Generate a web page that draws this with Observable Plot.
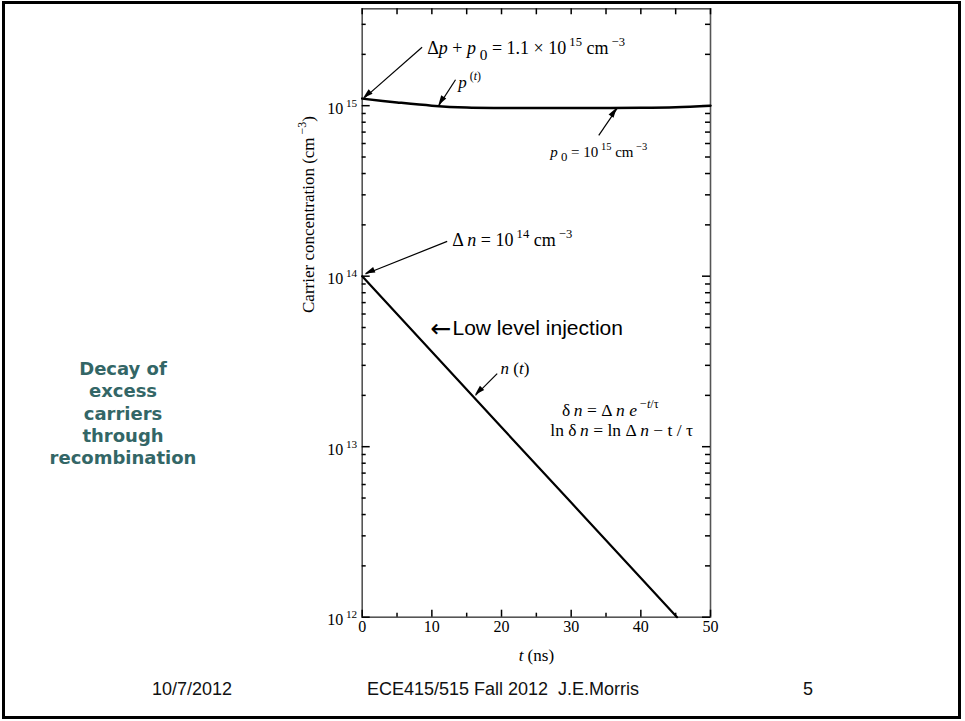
<!DOCTYPE html>
<html>
<head>
<meta charset="utf-8">
<script src="https://cdn.jsdelivr.net/npm/d3@7"></script>
<script src="https://cdn.jsdelivr.net/npm/@observablehq/plot@0.6"></script>
<style>
  html, body { margin: 0; padding: 0; background: #fff; }
  #slide { position: relative; width: 965px; height: 721px; overflow: hidden; background: #fff; }
  #border { position: absolute; left: 2px; top: 1px; width: 953px; height: 712px; border: 3px solid #000; }
  #chart { position: absolute; left: 0; top: 0; }
  #chart svg text { white-space: pre; }
  .side { position: absolute; left: 123px; top: 414px; transform: translate(-50%, -50%);
          font-family: "DejaVu Sans", sans-serif; font-weight: bold; font-size: 18px; line-height: 22.3px;
          color: #336666; text-align: center; white-space: nowrap; }
  .foot { position: absolute; top: 689px; transform: translate(-50%, -50%);
          font-family: "Liberation Sans", Arial, sans-serif; font-size: 18px; color: #111; white-space: pre; }
</style>
</head>
<body>
<div id="slide">
  <div id="border"></div>
  <div id="chart"></div>
  <div class="side">Decay of<br>excess<br>carriers<br>through<br>recombination</div>
  <div class="foot" style="left:192px">10/7/2012</div>
  <div class="foot" style="left:503px">ECE415/515 Fall 2012  J.E.Morris</div>
  <div class="foot" style="left:808px">5</div>
</div>
<script>
// ---- data ----
const tP = [0, 5, 10, 15, 20, 25, 30, 35, 40, 45, 50];
const pValues = [1.1e15, 1.045e15, 1.0e15, 0.975e15, 0.97e15, 0.97e15, 0.97e15, 0.97e15, 0.972e15, 0.98e15, 1.0e15];
const tN = [0, 10, 20, 30, 40, 45.2];
const nValues = [1e14, 3.6e13, 1.3e13, 4.7e12, 1.7e12, 1e12];

const xMajorTicks = [0, 10, 20, 30, 40, 50];
const xMinorTicks = [5, 15, 25, 35, 45];
const yDecades = [1e12, 1e13, 1e14, 1e15];
const yExponents = ["12", "13", "14", "15"];
const yMinorTicks = [2e12, 3e12, 4e12, 5e12, 6e12, 7e12, 8e12, 9e12,
                     2e13, 3e13, 4e13, 5e13, 6e13, 7e13, 8e13, 9e13,
                     2e14, 3e14, 4e14, 5e14, 6e14, 7e14, 8e14, 9e14,
                     2e15, 3e15];

const xLabel = "*t* (ns)";
const yLabel = "Carrier concentration (cm^{ −3})";

// annotations (t in ns, concentration in cm^-3)
const bigTexts = ["Δ*p* + *p*_{ 0} = 1.1 × 10^{ 15} cm^{ −3}", "Δ *n* = 10^{ 14} cm^{ −3}"];
const bigT = [9.33, 12.92];
const bigC = [2.165e15, 1.62e14];

const labelTexts = ["*p*^{ (*t*)}", "*n* (*t*)"];
const labelT = [13.8, 19.85];
const labelC = [1.374e15, 2.87e13];

const p0Texts = ["*p*_{ 0} = 10^{ 15} cm^{ −3}"];
const p0T = [27.0];
const p0C = [5.34e14];

const eqTexts = ["δ\u2009*n* = Δ\u2009*n* *e*^{ −*t*/τ}", "ln δ\u2009*n* = ln Δ\u2009*n* − t / τ"];
const eqT = [28.7, 27.0];
const eqC = [1.641e13, 1.245e13];

const noteArrow = ["←"];
const noteArrowT = [9.8];
const noteText = ["Low level injection"];
const noteT = [12.96];
const noteC = [4.93e13];

const arrowT1 = [8.6, 13.4, 33.96, 12.2, 19.38];
const arrowC1 = [2.2e15, 1.419e15, 6.69e14, 1.60e14, 2.68e13];
const arrowT2 = [0.2, 11.0, 36.6, 0.47, 16.26];
const arrowC2 = [1.1e15, 1.0e15, 0.965e15, 1.03e14, 2.0e13];

// ---- build tables ----
const pData = tP.map((t, i) => ({t, v: pValues[i]}));
const nData = tN.map((t, i) => ({t, v: nValues[i]}));
const tbl = (texts, ts, cs) => texts.map((s, i) => ({s, t: ts[i], c: cs[i]}));
const bigNotes = tbl(bigTexts, bigT, bigC);
const labelNotes = tbl(labelTexts, labelT, labelC);
const p0Notes = tbl(p0Texts, p0T, p0C);
const eqNotes = tbl(eqTexts, eqT, eqC);
const arrowNote = tbl(noteArrow, noteArrowT, noteC);
const textNote = tbl(noteText, noteT, noteC);
const arrows = arrowT1.map((_, i) => ({t1: arrowT1[i], c1: arrowC1[i], t2: arrowT2[i], c2: arrowC2[i]}));

const W = 965, H = 680;
const mL = 361.7, mR = 255, mT = 8.3, mB = 63.3;
const innerW = W - mL - mR, innerH = H - mT - mB;

const NS = "http://www.w3.org/2000/svg";
function arrowHeads(index, scales) {
  const g = document.createElementNS(NS, "g");
  if (!scales || !scales.x || !scales.y) return g;
  for (const a of arrows) {
    const x1 = scales.x(a.t1), y1 = scales.y(a.c1), x2 = scales.x(a.t2), y2 = scales.y(a.c2);
    const ang = Math.atan2(y2 - y1, x2 - x1), L = 10, Wd = 3;
    const bx = x2 - L * Math.cos(ang), by = y2 - L * Math.sin(ang);
    const px = -Math.sin(ang) * Wd, py = Math.cos(ang) * Wd;
    const poly = document.createElementNS(NS, "polygon");
    poly.setAttribute("points", `${x2},${y2} ${bx + px},${by + py} ${bx - px},${by - py}`);
    poly.setAttribute("fill", "black");
    g.append(poly);
  }
  return g;
}

const svg = Plot.plot({
  width: W, height: H,
  marginLeft: mL, marginRight: mR, marginTop: mT, marginBottom: mB,
  style: {fontFamily: "'Liberation Serif', 'Times New Roman', serif", background: "transparent", color: "black", overflow: "visible"},
  x: {domain: [0, 50], axis: null},
  y: {type: "log", domain: [1e12, 3.7e15], axis: null},
  marks: [
    Plot.frame({stroke: "#555", strokeWidth: 1.6}),
    // ticks (inward)
    Plot.tickX(xMajorTicks, {x: d => d, insetTop: innerH - 7, strokeWidth: 1.5}),
    Plot.tickX(xMinorTicks, {x: d => d, insetTop: innerH - 4, strokeWidth: 1.5}),
    Plot.tickX(xMajorTicks.concat(xMinorTicks), {x: d => d, insetBottom: innerH - 6, strokeWidth: 1.5}),
    Plot.tickY(yDecades, {y: d => d, insetRight: innerW - 8, strokeWidth: 1.5}),
    Plot.tickY(yMinorTicks, {y: d => d, insetRight: innerW - 4, strokeWidth: 1.5}),
    Plot.tickY(yDecades, {y: d => d, insetLeft: innerW - 8, strokeWidth: 1.5}),
    Plot.tickY(yMinorTicks, {y: d => d, insetLeft: innerW - 5, strokeWidth: 1.5}),
    // tick labels
    Plot.text(xMajorTicks, {x: d => d, frameAnchor: "bottom", dy: 15, text: d => String(d), fontSize: 16}),
    Plot.text(yDecades, {y: d => d, frameAnchor: "left", dx: -5, dy: 3, textAnchor: "end",
                         text: (d, i) => `10^{ ${yExponents[i]}}`, fontSize: 16}),
    // axis labels
    Plot.text([xLabel], {frameAnchor: "bottom", dy: 43.3, text: d => d, fontSize: 17}),
    Plot.text([yLabel], {frameAnchor: "left", dx: -54, rotate: -90, text: d => d, fontSize: 17}),
    // curves
    Plot.line(pData, {x: "t", y: "v", curve: "catmull-rom", strokeWidth: 2.5}),
    Plot.line(nData, {x: "t", y: "v", strokeWidth: 2.2}),
    // annotations
    Plot.link(arrows, {x1: "t1", y1: "c1", x2: "t2", y2: "c2", strokeWidth: 1.2}),
    arrowHeads,
    Plot.text(bigNotes, {x: "t", y: "c", text: "s", textAnchor: "start", fontSize: 18}),
    Plot.text(labelNotes, {x: "t", y: "c", text: "s", textAnchor: "start", fontSize: 17}),
    Plot.text(p0Notes, {x: "t", y: "c", text: "s", textAnchor: "start", fontSize: 15}),
    Plot.text(eqNotes, {x: "t", y: "c", text: "s", textAnchor: "start", fontSize: 17.5}),
    Plot.text(arrowNote, {x: "t", y: "c", text: "s", textAnchor: "start", fontSize: 25,
                          fontFamily: "'DejaVu Sans', sans-serif"}),
    Plot.text(textNote, {x: "t", y: "c", text: "s", textAnchor: "start", fontSize: 21,
                         fontFamily: "'Liberation Sans', Arial, sans-serif"})
  ]
});
document.getElementById("chart").append(svg);

// ---- rich text: ^{sup} _{sub} *italic* ----
function parseRich(s) {
  const segs = []; let italic = false, shift = 0, buf = "";
  const flush = () => { if (buf) segs.push({text: buf, italic, shift}); buf = ""; };
  for (let i = 0; i < s.length; i++) {
    const c = s[i];
    if ((c === "^" || c === "_") && s[i + 1] === "{") { flush(); shift = c === "^" ? 1 : -1; i++; }
    else if (c === "}" && shift !== 0) { flush(); shift = 0; }
    else if (c === "*") { flush(); italic = !italic; }
    else buf += c;
  }
  flush();
  return segs;
}
function fillRich(el) {
  const s = el.textContent;
  if (!/[\^_]\{|\*/.test(s)) return;
  const base = parseFloat(getComputedStyle(el).fontSize) || 16;
  el.textContent = "";
  let cur = 0;
  for (const seg of parseRich(s)) {
    const ts = document.createElementNS(NS, "tspan");
    const target = seg.shift === 1 ? -0.45 * base : seg.shift === -1 ? 0.3 * base : 0;
    if (target !== cur) { ts.setAttribute("dy", (target - cur).toFixed(2)); cur = target; }
    if (seg.shift) ts.setAttribute("font-size", ((seg.shift === 1 ? 0.7 : 0.85) * base).toFixed(2));
    if (seg.italic) ts.setAttribute("font-style", "italic");
    ts.textContent = seg.text;
    el.append(ts);
  }
}
svg.querySelectorAll("text").forEach(t => {
  if (t.querySelector("tspan")) t.querySelectorAll("tspan").forEach(fillRich); else fillRich(t);
});
</script>
</body>
</html>
